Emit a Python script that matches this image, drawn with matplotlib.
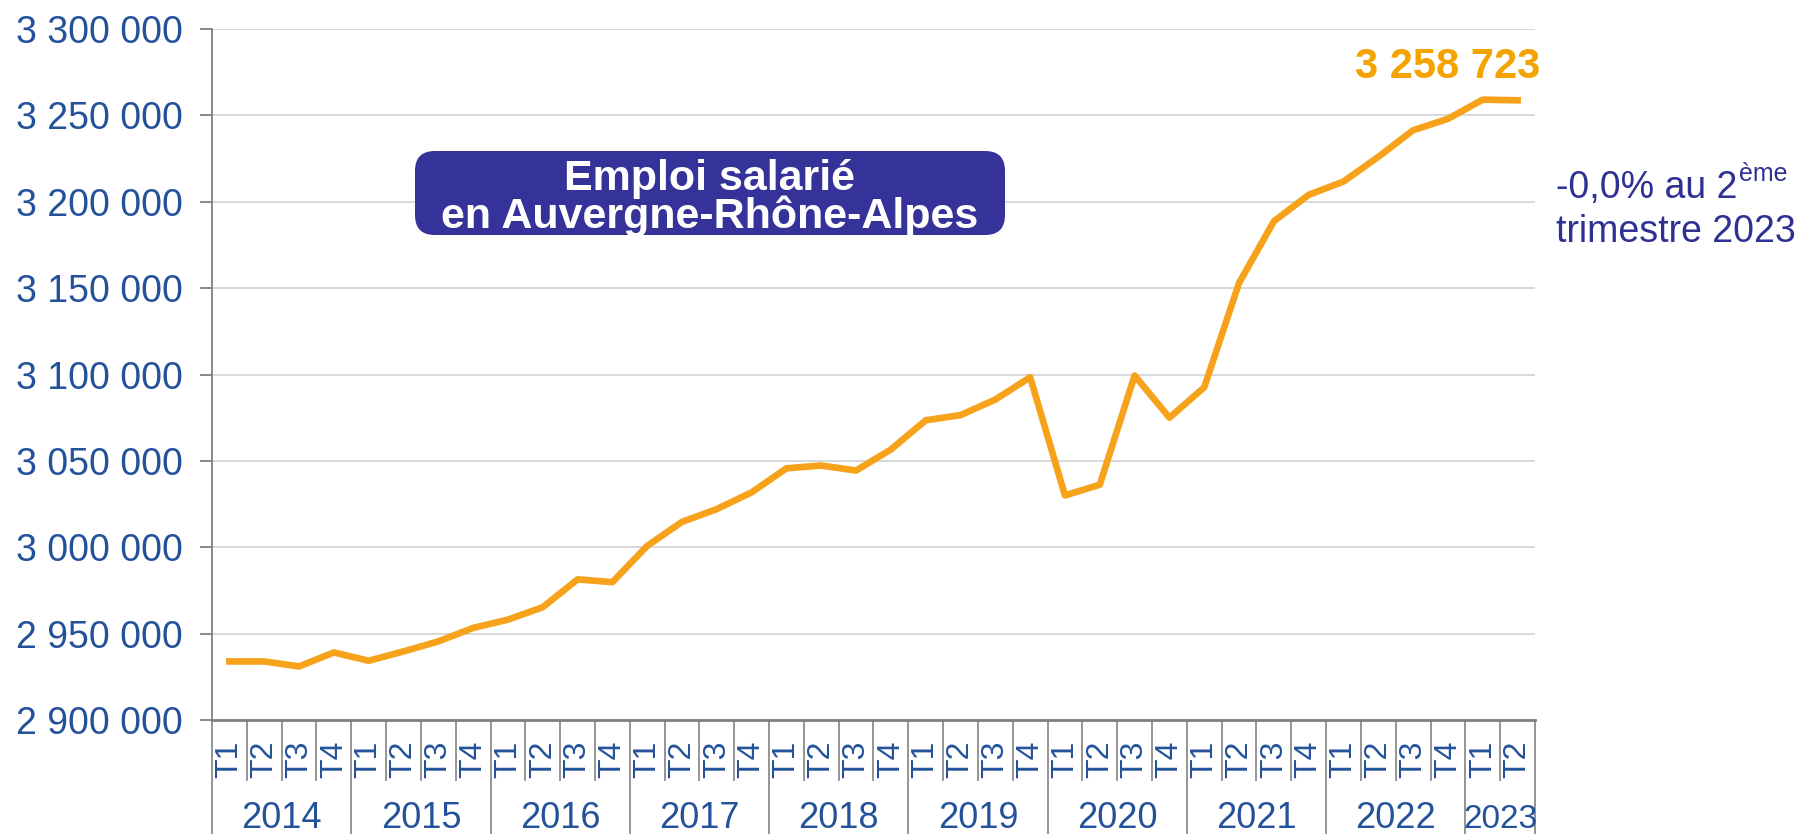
import numpy as np
import matplotlib.pyplot as plt
from matplotlib.patches import FancyBboxPatch
from matplotlib.ticker import FuncFormatter
from matplotlib.transforms import blended_transform_factory

plt.rcParams['font.family'] = ['Liberation Sans', 'DejaVu Sans']

# Data
years = ['2014', '2015', '2016', '2017', '2018', '2019', '2020', '2021', '2022', '2023']
quarters_per_year = [4, 4, 4, 4, 4, 4, 4, 4, 4, 2]
quarters = ['T1', 'T2', 'T3', 'T4'] * 9 + ['T1', 'T2']
emploi = [2933900, 2933900, 2931000, 2939100, 2934300, 2939700, 2945500, 2953300,
          2958100, 2965300, 2981400, 2979800, 3000800, 3014700, 3022100, 3031800,
          3045700, 3047300, 3044400, 3056600, 3073500, 3076500, 3085500, 3098400,
          3030000, 3036200, 3099400, 3075000, 3092600, 3153000, 3188700, 3204000,
          3211700, 3226000, 3241400, 3248000, 3259100, 3258723]
y_ticks = np.arange(2900000, 3300001, 50000)

blue = '#24529a'
orange = '#f7a21b'
navy = '#2e3192'

# Figure
W, H = 1800, 834
fig = plt.figure(figsize=(W / 100, H / 100), dpi=100)
ax_l, ax_r, ax_top, ax_bot = 212, 1535, 29, 720
ax = fig.add_axes([ax_l / W, 1 - ax_bot / H, (ax_r - ax_l) / W, (ax_bot - ax_top) / H])

x = np.arange(len(emploi))
ax.plot(x, emploi, color=orange, linewidth=4.8, solid_joinstyle='round', zorder=3)
ax.set_xlim(-0.5, len(emploi) - 0.5)
ax.set_ylim(y_ticks[0], y_ticks[-1])

ax.set_yticks(y_ticks)
ax.yaxis.set_major_formatter(FuncFormatter(lambda v, p: f"{int(v):,}".replace(',', ' ')))
ax.tick_params(axis='y', length=9, width=1.3, color='#808080', pad=12,
               labelsize=27, labelcolor=blue)
ax.set_xticks([])
ax.yaxis.grid(True, color='#d6d6d6', linewidth=1.3)
ax.set_axisbelow(True)
ax.spines['top'].set_visible(False)
ax.spines['right'].set_visible(False)
ax.spines['left'].set_color('#808080')
ax.spines['left'].set_linewidth(1.3)
ax.spines['bottom'].set_color('#808080')
ax.spines['bottom'].set_linewidth(2)

# Category axis: quarter / year separators and labels
trans = blended_transform_factory(ax.transData, fig.transFigure)
axis_y = 1 - ax_bot / H
year_edges = np.concatenate([[0], np.cumsum(quarters_per_year)]) - 0.5
for b in np.arange(-0.5, len(emploi), 1.0):
    y0 = 0 if b in year_edges else 1 - 780 / H
    ax.plot([b, b], [y0, axis_y], color='#8c8c8c', linewidth=1.3,
            transform=trans, clip_on=False)
for i, q in enumerate(quarters):
    ax.text(i, 1 - 759 / H, q, rotation=90, ha='center', va='center',
            fontsize=23, color=blue, transform=trans)
for k, yr in enumerate(years):
    # the last year only has two quarters, its label is squeezed
    size = 26 if quarters_per_year[k] == 4 else 24
    ax.text((year_edges[k] + year_edges[k + 1]) / 2, 6 / H, yr,
            ha='center', va='baseline', fontsize=size, color=blue, transform=trans)

# Title box
box = FancyBboxPatch((415 / W, 1 - 235 / H), (1005 - 415) / W, 84 / H,
                     boxstyle='round,pad=0,rounding_size=0.011',
                     mutation_aspect=W / H, transform=fig.transFigure,
                     facecolor='#353399', edgecolor='none', zorder=5)
fig.patches.append(box)
fig.text(710 / W, 1 - 198 / H, 'Emploi salarié\nen Auvergne-Rhône-Alpes',
         ha='center', va='center', color='white', fontsize=31,
         fontweight='bold', linespacing=0.9, zorder=6)

# Last value label
ax.annotate(f"{emploi[-1]:,}".replace(',', ' '), xy=(x[-1], emploi[-1]),
            xytext=(16, 24), textcoords='offset points', ha='right', va='center',
            fontsize=30, fontweight='bold', color='#f5a300')

# Side note
t1 = fig.text(1556 / W, 1 - 198 / H, '-0,0% au 2', ha='left', va='baseline',
              fontsize=27, color=navy)
ax.annotate('ème', xy=(1, 0), xycoords=t1, xytext=(1, 18),
            textcoords='offset points', ha='left', va='baseline',
            fontsize=18, color=navy)
fig.text(1556 / W, 1 - 242 / H, 'trimestre 2023', ha='left', va='baseline',
         fontsize=27, color=navy)

fig.savefig('out.png', dpi=100)
